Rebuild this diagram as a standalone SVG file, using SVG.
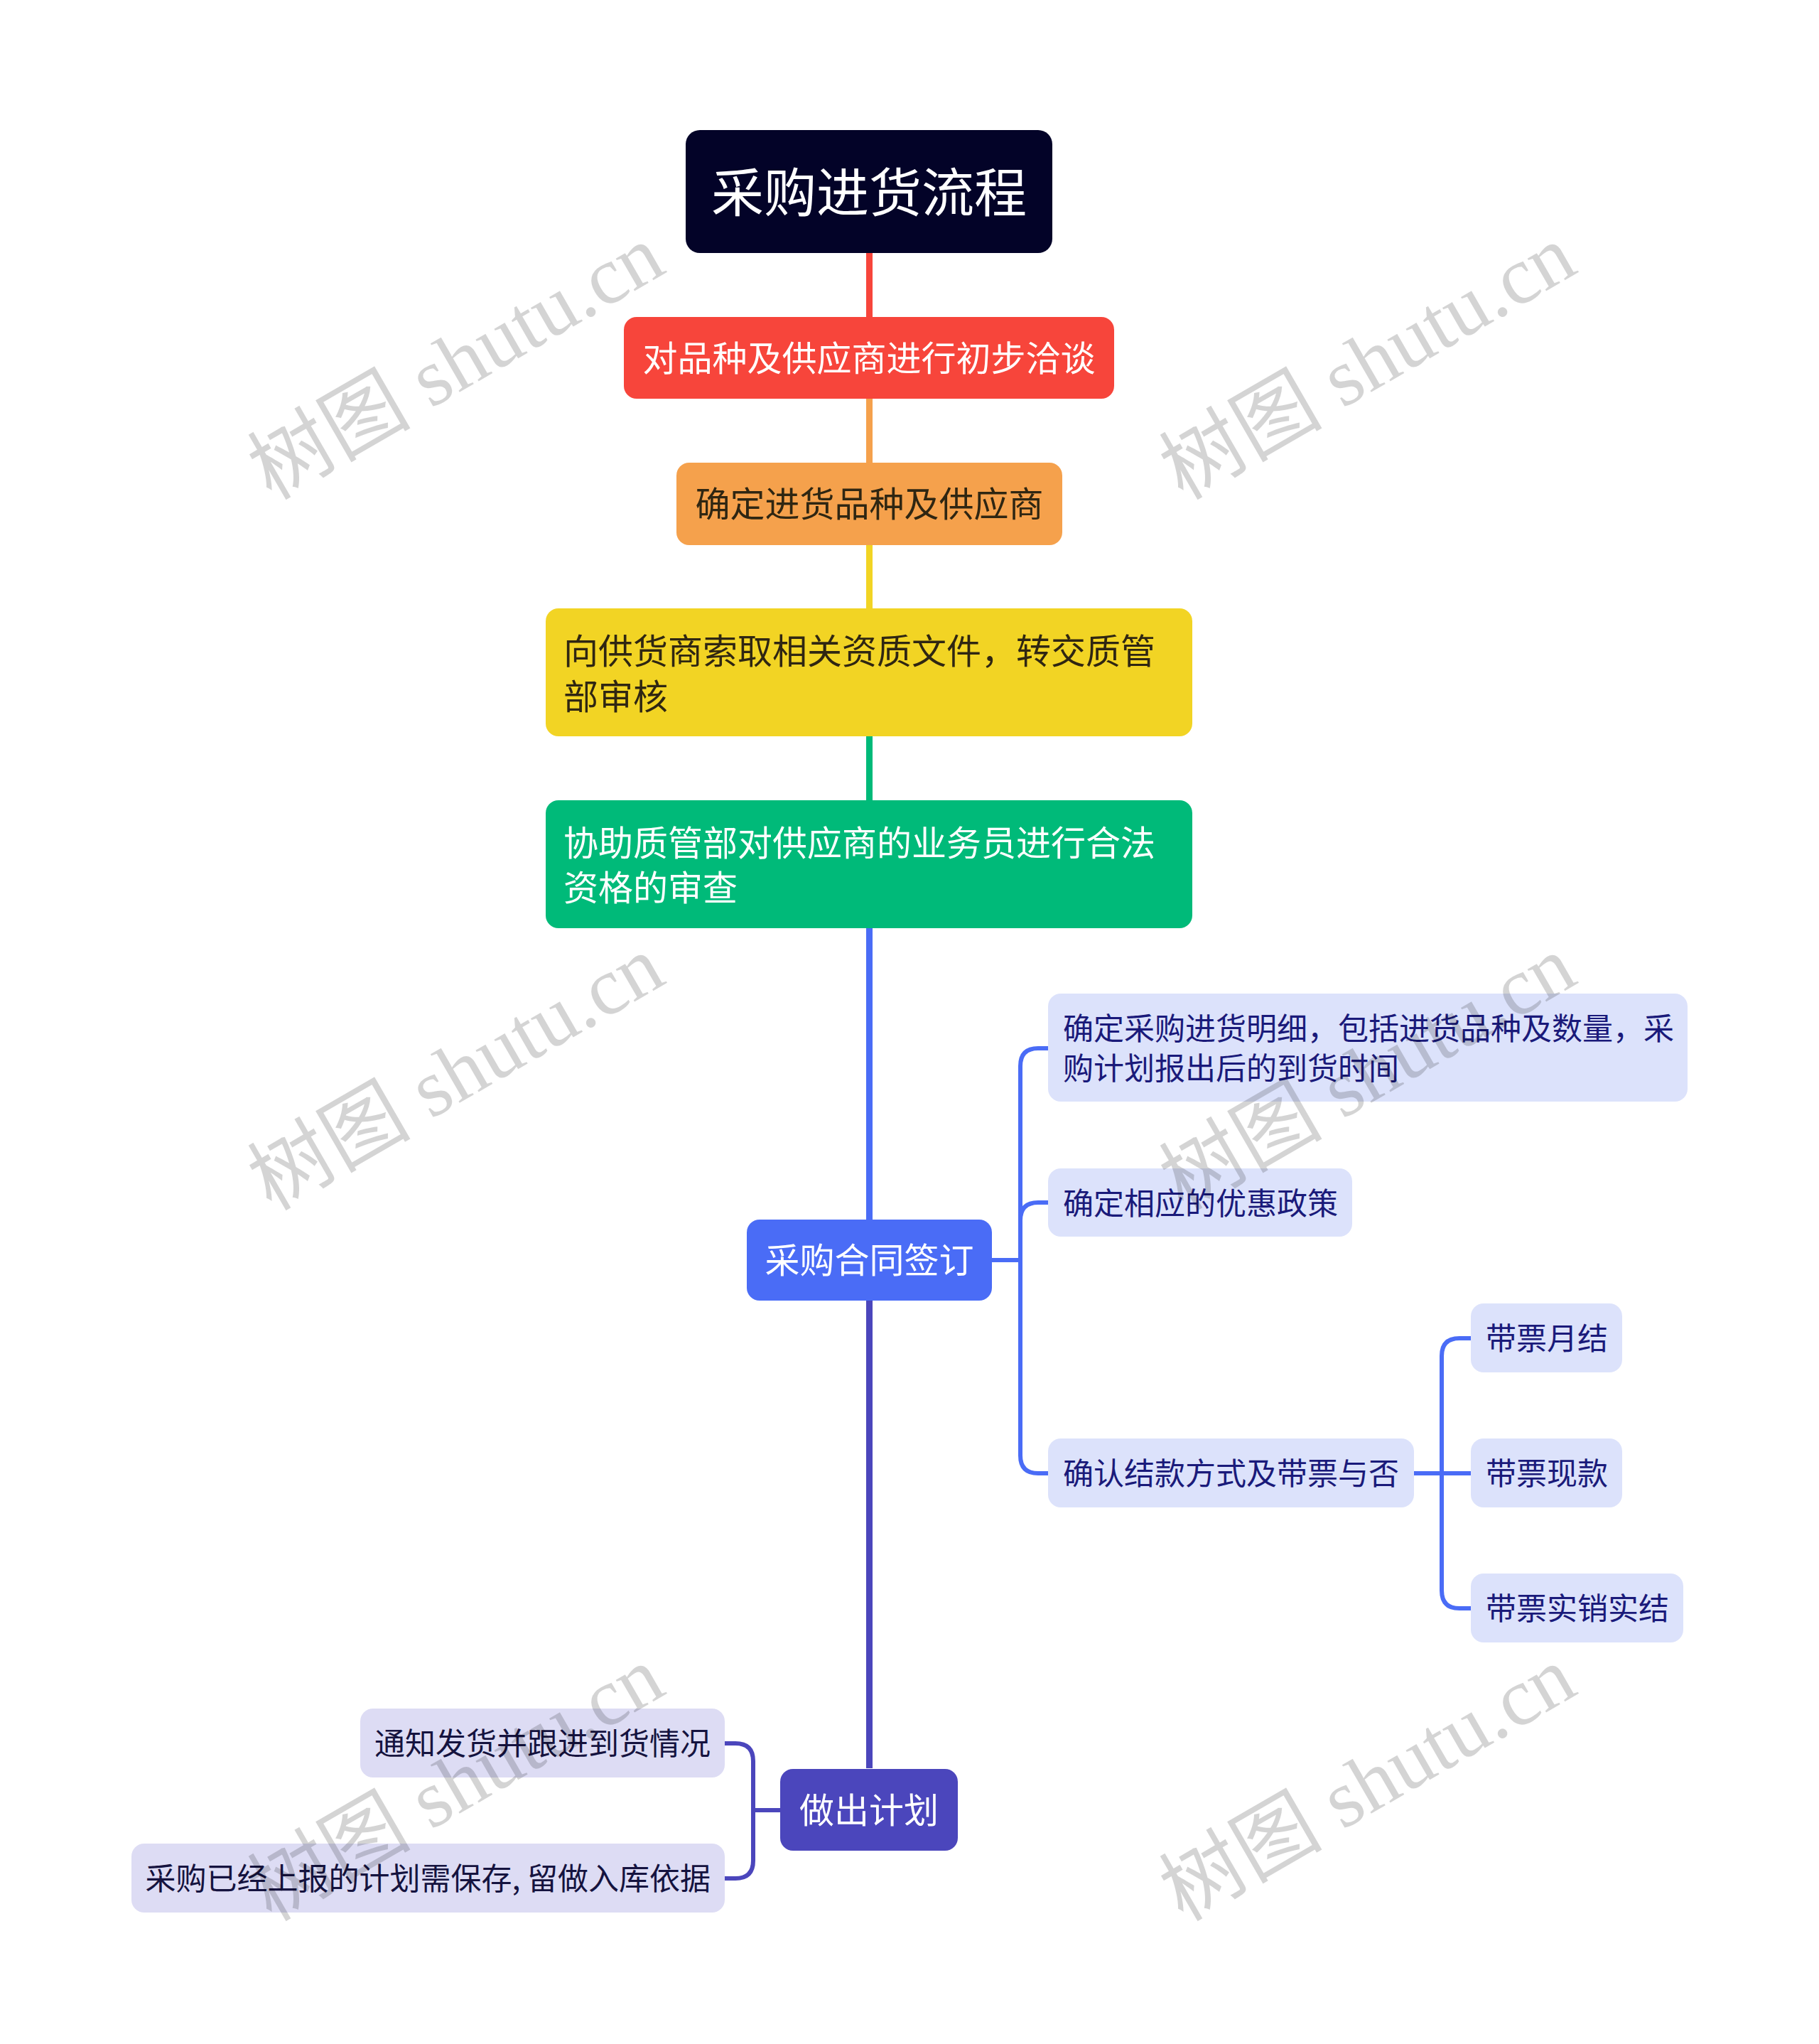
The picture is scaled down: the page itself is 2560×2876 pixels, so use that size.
<svg xmlns="http://www.w3.org/2000/svg" width="2560" height="2876" viewBox="0 0 2560 2876">
<style>
text{font-family:"Noto Sans CJK SC","Noto Sans",sans-serif;dominant-baseline:central}
.t49{font-size:49px}
.t43{font-size:43px}
.w{fill:#ffffff}
.dk{fill:#2f2612}
.nv{fill:#1a1a7a}
.pv{fill:#15133f}
.bc{fill:#dce2fb}
.pc{fill:#dddcf4}
.cn{fill:none;stroke-width:6}
.wm{font-family:"Liberation Serif","Noto Sans CJK SC",serif;font-size:115px;fill:#000;fill-opacity:0.17;text-anchor:middle}
</style>
<rect width="2560" height="2876" fill="#ffffff"/>
<g id="connectors">
<line x1="1223.5" y1="356" x2="1223.5" y2="446" stroke="#f7453b" stroke-width="9"/>
<line x1="1223.5" y1="561" x2="1223.5" y2="651" stroke="#f5a14c" stroke-width="9"/>
<line x1="1223.5" y1="767" x2="1223.5" y2="856" stroke="#f2d424" stroke-width="9"/>
<line x1="1223.5" y1="1036" x2="1223.5" y2="1126" stroke="#00ba79" stroke-width="9"/>
<line x1="1223.5" y1="1306" x2="1223.5" y2="1716" stroke="#4a6cf6" stroke-width="9"/>
<line x1="1223.5" y1="1830" x2="1223.5" y2="2488" stroke="#4b46bc" stroke-width="9"/>
<g stroke="#4a6cf6">
<path class="cn" d="M1396 1773 H1436 V1500 Q1436 1475 1461 1475 H1476"/>
<path class="cn" d="M1396 1773 H1436 V1717 Q1436 1692 1461 1692 H1476"/>
<path class="cn" d="M1396 1773 H1436 V2048 Q1436 2073 1461 2073 H1476"/>
<path class="cn" d="M1990 2073 H2029 V1908 Q2029 1883 2054 1883 H2072"/>
<path class="cn" d="M1990 2073 H2072"/>
<path class="cn" d="M1990 2073 H2029 V2238 Q2029 2263 2054 2263 H2072"/>
</g>
<g stroke="#4b46bc">
<path class="cn" d="M1098 2547 H1060 V2478 Q1060 2453 1035 2453 H1018"/>
<path class="cn" d="M1098 2547 H1060 V2618 Q1060 2643 1035 2643 H1018"/>
</g>
</g>
<g id="root">
<rect x="965" y="183" width="516" height="173" rx="20" fill="#030328"/>
<text x="1223" y="265" font-size="74" text-anchor="middle" class="w">采购进货流程</text>
</g>
<g id="n1">
<rect x="878" y="446" width="690" height="115" rx="18" fill="#f7453b"/>
<text x="1223" y="500" class="t49 w" text-anchor="middle">对品种及供应商进行初步洽谈</text>
</g>
<g id="n2">
<rect x="952" y="651" width="543" height="116" rx="18" fill="#f5a14c"/>
<text x="1223.5" y="705" class="t49 dk" text-anchor="middle">确定进货品种及供应商</text>
</g>
<g id="n3">
<rect x="768" y="856" width="910" height="180" rx="18" fill="#f2d424"/>
<text x="793" y="912" class="t49 dk">向供货商索取相关资质文件，转交质管</text>
<text x="793" y="976" class="t49 dk">部审核</text>
</g>
<g id="n4">
<rect x="768" y="1126" width="910" height="180" rx="18" fill="#00ba79"/>
<text x="793" y="1182" class="t49 w">协助质管部对供应商的业务员进行合法</text>
<text x="793" y="1245" class="t49 w">资格的审查</text>
</g>
<g id="n5">
<rect x="1051" y="1716" width="345" height="114" rx="18" fill="#4a6cf6"/>
<text x="1223.5" y="1769" class="t49 w" text-anchor="middle">采购合同签订</text>
</g>
<g id="n5a">
<rect x="1475" y="1398" width="900" height="152" rx="18" class="bc"/>
<text x="1496" y="1444" class="t43 nv">确定采购进货明细，包括进货品种及数量，采</text>
<text x="1496" y="1500" class="t43 nv">购计划报出后的到货时间</text>
</g>
<g id="n5b">
<rect x="1475" y="1644" width="428" height="96" rx="18" class="bc"/>
<text x="1496" y="1690" class="t43 nv">确定相应的优惠政策</text>
</g>
<g id="n5c">
<rect x="1475" y="2024" width="515" height="97" rx="18" class="bc"/>
<text x="1496" y="2070" class="t43 nv">确认结款方式及带票与否</text>
</g>
<g id="n5c1">
<rect x="2070" y="1834" width="213" height="97" rx="18" class="bc"/>
<text x="2091" y="1880" class="t43 nv">带票月结</text>
</g>
<g id="n5c2">
<rect x="2070" y="2024" width="213" height="97" rx="18" class="bc"/>
<text x="2091" y="2070" class="t43 nv">带票现款</text>
</g>
<g id="n5c3">
<rect x="2070" y="2214" width="299" height="97" rx="18" class="bc"/>
<text x="2091" y="2260" class="t43 nv">带票实销实结</text>
</g>
<g id="n6">
<rect x="1098" y="2489" width="250" height="115" rx="18" fill="#4b46bc"/>
<text x="1223" y="2543" class="t49 w" text-anchor="middle">做出计划</text>
</g>
<g id="n6a">
<rect x="507" y="2404" width="513" height="97" rx="18" class="pc"/>
<text x="1000" y="2450" class="t43 pv" text-anchor="end">通知发货并跟进到货情况</text>
</g>
<g id="n6b">
<rect x="185" y="2594" width="835" height="97" rx="18" class="pc"/>
<text x="1000" y="2640" class="t43 pv" text-anchor="end">采购已经上报的计划需保存, 留做入库依据</text>
</g>
<g id="watermarks">
<text class="wm" x="642" y="510" transform="rotate(-30 642 510)">树图 shutu.cn</text>
<text class="wm" x="1925" y="510" transform="rotate(-30 1925 510)">树图 shutu.cn</text>
<text class="wm" x="642" y="1510" transform="rotate(-30 642 1510)">树图 shutu.cn</text>
<text class="wm" x="1925" y="1510" transform="rotate(-30 1925 1510)">树图 shutu.cn</text>
<text class="wm" x="642" y="2510" transform="rotate(-30 642 2510)">树图 shutu.cn</text>
<text class="wm" x="1925" y="2510" transform="rotate(-30 1925 2510)">树图 shutu.cn</text>
</g>
</svg>
